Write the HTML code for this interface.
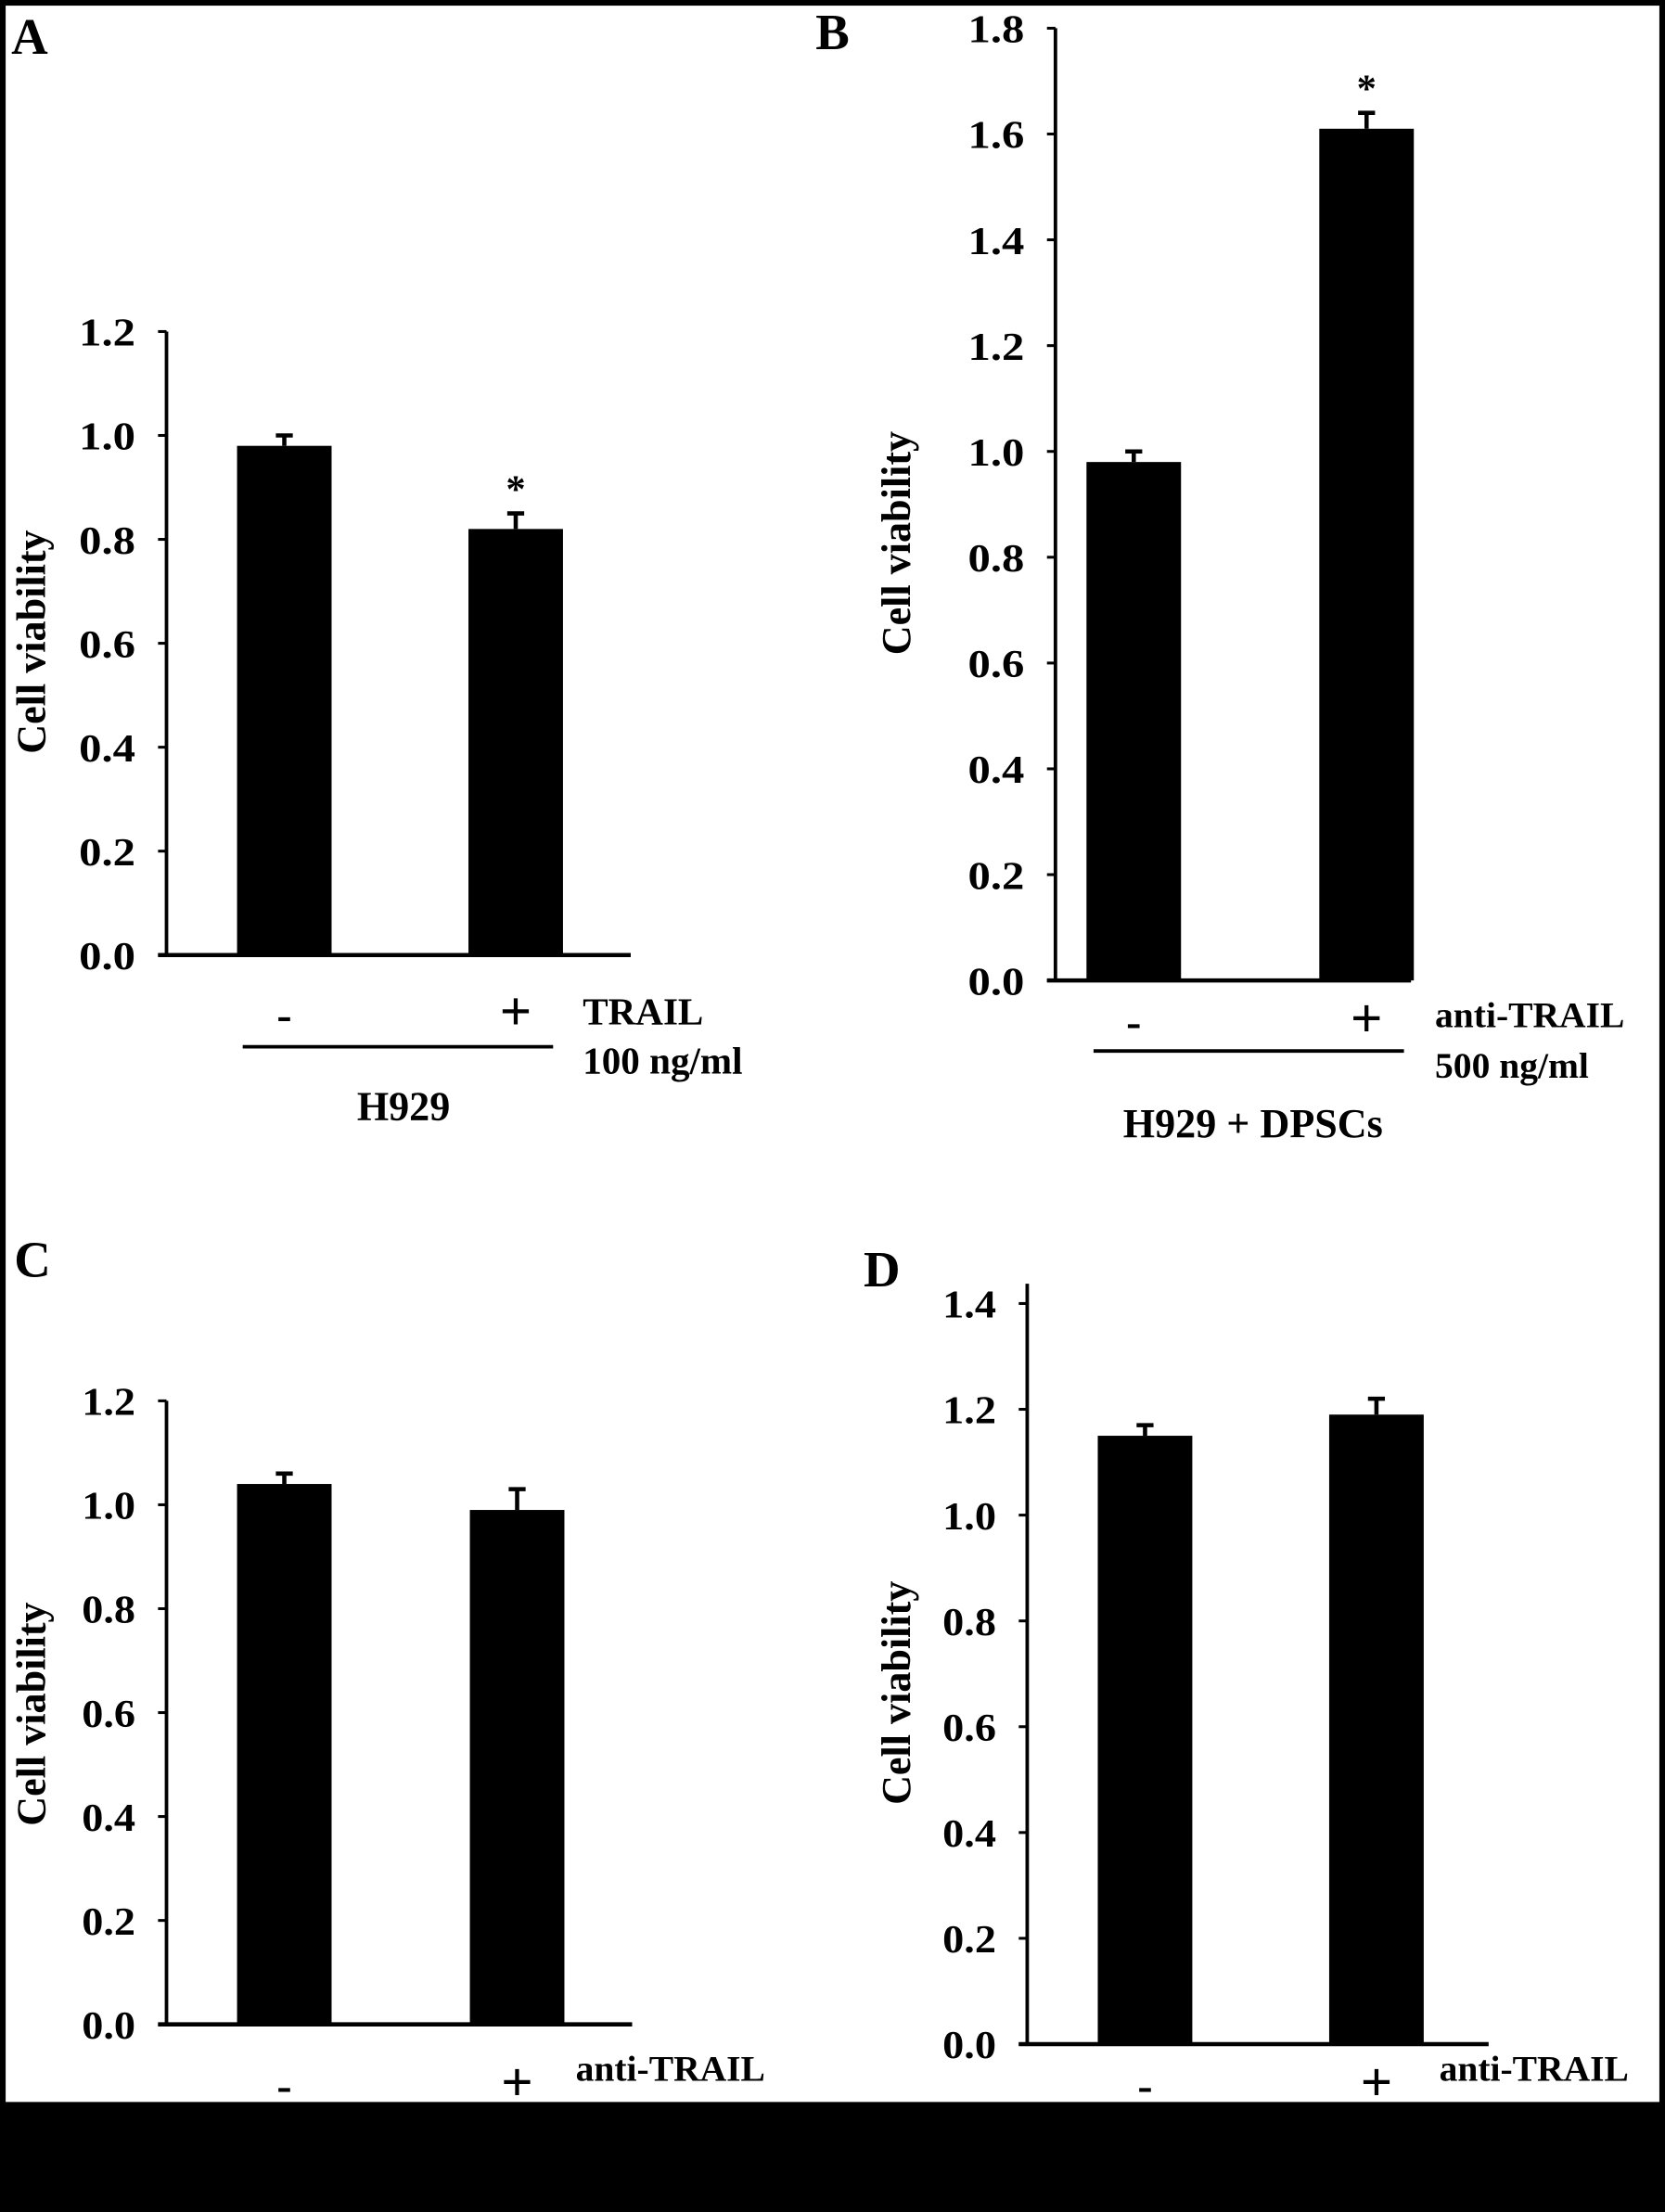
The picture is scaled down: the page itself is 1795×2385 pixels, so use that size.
<!DOCTYPE html>
<html><head><meta charset="utf-8"><style>
html,body{margin:0;padding:0;background:#000;}
svg{display:block;}
text{font-family:"Liberation Serif",serif;font-weight:bold;fill:#000;}
</style></head><body>
<svg id="fig" width="1795" height="2385" viewBox="0 0 1180 1568" preserveAspectRatio="none" xmlns="http://www.w3.org/2000/svg">
<rect x="0" y="0" width="1180" height="1568" fill="#000"/>
<rect x="4" y="4" width="1172" height="1486" fill="#fff"/>
<g id="root"></g>
</svg>
<script>
// Panel A
const catsA = ["-", "+"];
const valsA = [0.98, 0.82];
const errsA = [0.02, 0.03];
const ticksA = ["0.0","0.2","0.4","0.6","0.8","1.0","1.2"];
// Panel B
const catsB = ["-", "+"];
const valsB = [0.98, 1.61];
const errsB = [0.02, 0.03];
const ticksB = ["0.0","0.2","0.4","0.6","0.8","1.0","1.2","1.4","1.6","1.8"];
// Panel C
const catsC = ["-", "+"];
const valsC = [1.04, 0.99];
const errsC = [0.02, 0.04];
const ticksC = ["0.0","0.2","0.4","0.6","0.8","1.0","1.2"];
// Panel D
const catsD = ["-", "+"];
const valsD = [1.15, 1.19];
const errsD = [0.02, 0.03];
const ticksD = ["0.0","0.2","0.4","0.6","0.8","1.0","1.2","1.4"];

const NS = "http://www.w3.org/2000/svg";
const root = document.getElementById("root");
function mk(tag, attrs, parent, txt){
  const e = document.createElementNS(NS, tag);
  for (const k in attrs) e.setAttribute(k, attrs[k]);
  if (txt !== undefined) e.textContent = txt;
  (parent||root).appendChild(e);
  return e;
}

function panel(cfg){
  const g = mk("g", {});
  
  
  const y = v => cfg.y0 - (v - 0) / cfg.max * (cfg.y0 - cfg.yTop);
  const ya = mk("line", {x1:cfg.ax, y1:cfg.axTop, x2:cfg.ax, y2:cfg.y0+1, stroke:"#000","stroke-width":2.5}, g);
  
  
  const xa = mk("line", {x1:cfg.ax-6, y1:cfg.y0, x2:cfg.axRight, y2:cfg.y0, stroke:"#000","stroke-width":3}, g);
  
  
  cfg.ticks.forEach(t => {
    const v = parseFloat(t);
    const ty = y(v);
    const tk = mk("line", {x1:cfg.ax-6, y1:ty, x2:cfg.ax, y2:ty, stroke:"#000","stroke-width":2}, g);
    
    
    const tl = mk("text", {x:cfg.ax-22, y:ty+10, "text-anchor":"end","font-size":cfg.tickFs||28, textLength: cfg.tickW||40, lengthAdjust:"spacingAndGlyphs"}, g, t);
    
    
  });
  cfg.vals.forEach((v, i) => {
    const x0 = cfg.barX[i], w = cfg.barW;
    const b = mk("rect", {x:x0, y:y(v), width:w, height:cfg.y0 - y(v), fill:"#000"}, g);
    
    
    const cx = x0 + w/2, top = y(v + cfg.errs[i]);
    const e1 = mk("line", {x1:cx, y1:y(v), x2:cx, y2:top, stroke:"#000","stroke-width":3}, g);
    
    
    const e2 = mk("line", {x1:cx-6, y1:top, x2:cx+6, y2:top, stroke:"#000","stroke-width":3}, g);
    
    
    if (cfg.star && cfg.star[i]) {
      const s = mk("text", {x:cx, y:top-8, "text-anchor":"middle","font-size":28}, g, "*");
      
      
    }
    const c = mk("text", {x:cx, y:cfg.catY, "text-anchor":"middle","font-size":i===0?32:40}, g, cfg.cats[i]);
    
    
  });
  const yt = mk("text", {x:0, y:0, "text-anchor":"middle","font-size":cfg.titleFs||29, transform:`translate(${cfg.titleX},${cfg.titleY}) rotate(-90)`}, g, "Cell viability");
  
  
  const pl = mk("text", {x:cfg.letterX, y:cfg.letterY, "font-size":36}, g, cfg.letter);
  
  
  return g;
}

const gA = panel({name:"panel-a", ax:118, axTop:235, axRight:447, y0:677, yTop:235, max:1.2, ticks:ticksA, vals:valsA, errs:errsA, cats:catsA,
  barX:[168,332], barW:67, star:[false,true], catY:730, titleX:32, titleY:455, letter:"A", letterX:8, letterY:38});
const gB = panel({name:"panel-b", ax:748, axTop:20, axRight:1000, y0:695, yTop:20, max:1.8, ticks:ticksB, vals:valsB, errs:errsB, cats:catsB,
  barX:[770,935], barW:67, star:[false,true], catY:735, titleX:645, titleY:385, letter:"B", letterX:578, letterY:35});
const gC = panel({name:"panel-c", ax:118, axTop:993, axRight:448, y0:1435, yTop:993, max:1.2, ticks:ticksC, vals:valsC, errs:errsC, cats:catsC,
  barX:[168,333], barW:67, catY:1489, titleX:32, titleY:1215, letter:"C", letterX:10, letterY:905, tickW:38});
const gD = panel({name:"panel-d", ax:728, axTop:910, axRight:1055, y0:1449, yTop:924, max:1.4, ticks:ticksD, vals:valsD, errs:errsD, cats:catsD,
  barX:[778,942], barW:67, catY:1489, titleX:645, titleY:1200, letter:"D", letterX:612, letterY:912, tickW:38});

function txt(g, x, yy, s, fs, name, anchor){
  const t = mk("text", {x:x, y:yy, "font-size":fs, "text-anchor":anchor||"start"}, g, s);
  
  
}
function hl(g, x1, x2, yy, name){
  const l = mk("line", {x1:x1, y1:yy, x2:x2, y2:yy, stroke:"#000","stroke-width":2.5}, g);
  
  
}
txt(gA, 413, 726, "TRAIL", 27, "treatment-label");
txt(gA, 413, 761, "100 ng/ml", 27, "dose-label");
hl(gA, 172, 392, 742, "group-line");
txt(gA, 286, 794, "H929", 29, "group-label", "middle");
txt(gB, 1017, 728, "anti-TRAIL", 26, "treatment-label");
txt(gB, 1017, 764, "500 ng/ml", 26, "dose-label");
hl(gB, 775, 995, 745, "group-line");
txt(gB, 888, 806, "H929 + DPSCs", 29, "group-label", "middle");
txt(gC, 408, 1475, "anti-TRAIL", 26, "treatment-label");
txt(gD, 1020, 1475, "anti-TRAIL", 26, "treatment-label");
</script>
</body></html>
